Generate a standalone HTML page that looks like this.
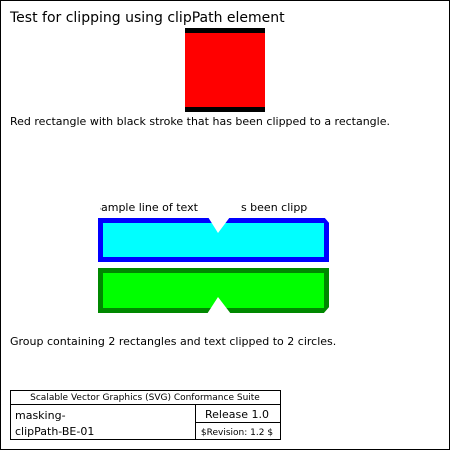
<!DOCTYPE html>
<html><head><meta charset="utf-8"><style>
html,body{margin:0;padding:0;background:#fff;}
svg{display:block;font-family:"DejaVu Sans","Liberation Sans",sans-serif;}
</style></head><body>
<svg width="450" height="450" viewBox="0 0 450 450">
<rect x="0.5" y="0.5" width="449" height="449" fill="#fff" stroke="#000"/>
<text x="10" y="22" font-size="14">Test for clipping using clipPath element</text>
<g>
<rect x="185" y="28" width="80" height="84" fill="#000"/>
<rect x="185" y="33" width="80" height="74" fill="#f00"/>
</g>
<text x="10" y="125" font-size="11">Red rectangle with black stroke that has been clipped to a rectangle.</text>
<g>
<text x="94" y="211" font-size="11">Sample line of text that has been clipped</text>
<rect x="60" y="195" width="40" height="20" fill="#fff"/>
<rect x="200" y="195" width="40" height="20" fill="#fff"/>
<rect x="308" y="195" width="40" height="20" fill="#fff"/>
<rect x="98" y="218" width="231" height="44" fill="#00f"/>
<rect x="103" y="223" width="221" height="34" fill="#0ff"/>
<rect x="98" y="268" width="231" height="45" fill="#080"/>
<rect x="103" y="273" width="221" height="35" fill="#0f0"/>
<polygon points="208,217 230,217 218,233" fill="#fff"/>
<polygon points="207,314 231,314 218,297" fill="#fff"/>
<polygon points="324,217 330,217 330,224" fill="#fff"/>
<polygon points="330,306 330,314 323,314" fill="#fff"/>
</g>
<text x="10" y="345" font-size="11">Group containing 2 rectangles and text clipped to 2 circles.</text>
<g fill="none" stroke="#000">
<rect x="10.5" y="390.5" width="270" height="49"/>
<line x1="10.5" y1="404.5" x2="280.5" y2="404.5"/>
<line x1="195.5" y1="404.5" x2="195.5" y2="439.5"/>
<line x1="195.5" y1="422.5" x2="280.5" y2="422.5"/>
</g>
<text x="145" y="400" font-size="9" text-anchor="middle">Scalable Vector Graphics (SVG) Conformance Suite</text>
<text x="15" y="419" font-size="11">masking-</text>
<text x="15" y="435" font-size="11">clipPath-BE-01</text>
<text x="237" y="418" font-size="11" text-anchor="middle">Release 1.0</text>
<text x="237" y="435" font-size="9" text-anchor="middle">$Revision: 1.2 $</text>
</svg>
</body></html>
